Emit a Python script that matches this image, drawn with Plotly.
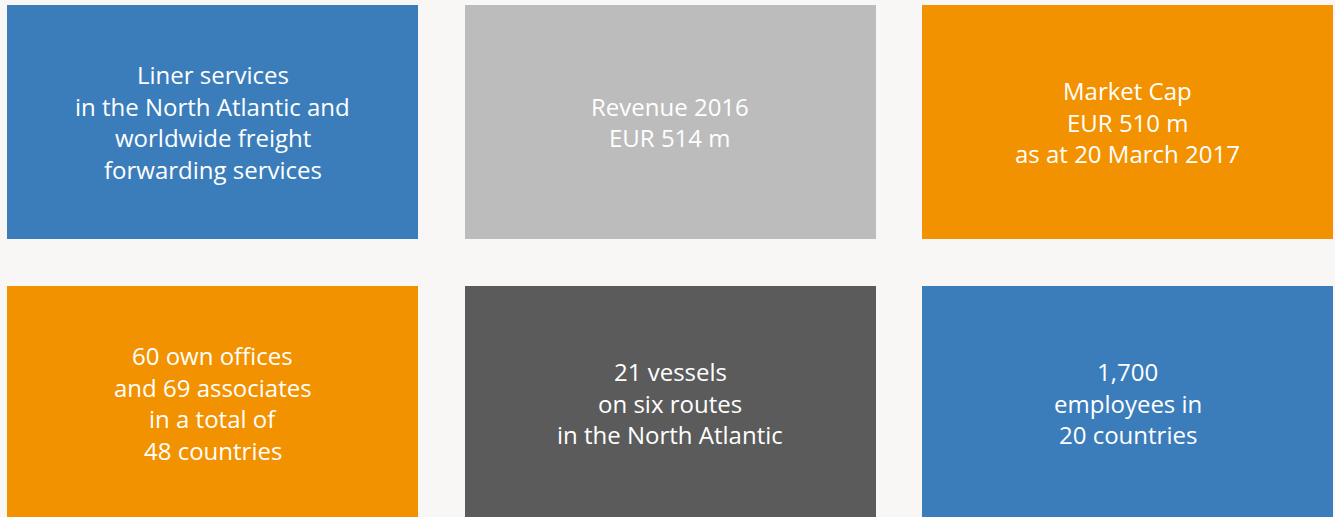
import plotly.graph_objects as go

# ---- data ----
tile_texts = [
    ["Liner services", "in the North Atlantic and", "worldwide freight", "forwarding services"],
    ["Revenue 2016", "EUR 514 m"],
    ["Market Cap", "EUR 510 m", "as at 20 March 2017"],
    ["60 own offices", "and 69 associates", "in a total of", "48 countries"],
    ["21 vessels", "on six routes", "in the North Atlantic"],
    ["1,700", "employees in", "20 countries"],
]
tile_rows = [0, 0, 0, 1, 1, 1]
tile_cols = [0, 1, 2, 0, 1, 2]
tile_colors = ["#3b7dbb", "#bcbcbc", "#f39200", "#f39200", "#5b5b5b", "#3b7dbb"]

# ---- layout constants (pixels) ----
W, H = 1335, 517
X0, TILE_W, COL_PITCH = 7, 411, 457.5
Y0, TILE_H, ROW_PITCH = 5, 234, 281
LINE_GAP = 31.7
FONT = dict(family="Open Sans, sans-serif", size=24, color="white")
BG = "#f8f7f5"

centers_x = [X0 + c * COL_PITCH + TILE_W / 2 for c in tile_cols]
tops = [Y0 + r * ROW_PITCH for r in tile_rows]

fig = go.Figure(go.Bar(
    x=centers_x,
    y=[TILE_H] * len(tile_texts),
    base=tops,
    width=TILE_W,
    marker=dict(color=tile_colors, line=dict(width=0)),
    hoverinfo="skip",
))

annotations = []
for lines, cx, top in zip(tile_texts, centers_x, tops):
    cy = top + TILE_H / 2
    n = len(lines)
    for i, line in enumerate(lines):
        annotations.append(dict(
            x=cx, y=cy + (i - (n - 1) / 2) * LINE_GAP,
            xref="x", yref="y", text=line, showarrow=False,
            font=FONT, xanchor="center", yanchor="middle",
        ))

fig.update_layout(
    width=W, height=H,
    margin=dict(l=0, r=0, t=0, b=0),
    paper_bgcolor=BG, plot_bgcolor=BG,
    xaxis=dict(range=[0, W], visible=False, fixedrange=True),
    yaxis=dict(range=[H, 0], visible=False, fixedrange=True),
    annotations=annotations,
    showlegend=False,
    bargap=0,
)

fig.write_html(
    "out.html",
    config={"displayModeBar": False},
    post_script="document.body.style.margin='0';document.body.style.overflow='hidden';"
                "document.body.style.backgroundColor='%s';" % BG,
)
